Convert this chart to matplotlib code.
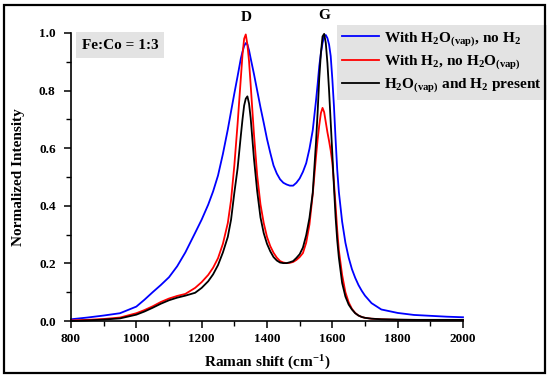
import matplotlib
matplotlib.use("Agg")
import matplotlib.pyplot as plt
from matplotlib.patches import Rectangle
from matplotlib.ticker import MultipleLocator
import matplotlib.transforms as mtransforms

plt.rcParams['font.family'] = ['Liberation Serif', 'DejaVu Serif']
plt.rcParams['font.weight'] = 'bold'
plt.rcParams['mathtext.default'] = 'regular'

# Raman shift (cm^-1)
shift = [800, 850, 900, 950, 1000, 1025, 1050, 1075, 1100, 1125,
         1150, 1180, 1200, 1220, 1235, 1250, 1265, 1280, 1290, 1300,
         1310, 1320, 1325, 1330, 1335, 1340, 1345, 1350, 1360, 1370,
         1380, 1390, 1400, 1410, 1420, 1430, 1440, 1450, 1460, 1470,
         1480, 1490, 1500, 1510, 1520, 1530, 1540, 1550, 1555, 1560,
         1565, 1570, 1575, 1580, 1585, 1590, 1595, 1600, 1605, 1610,
         1615, 1620, 1630, 1640, 1650, 1660, 1670, 1680, 1690, 1700,
         1720, 1750, 1800, 1850, 1900, 1950, 2000]

h2o_no_h2 = [0.006, 0.012, 0.019, 0.027, 0.050, 0.074, 0.100, 0.125, 0.152, 0.190,
             0.238, 0.306, 0.352, 0.404, 0.450, 0.505, 0.580, 0.665, 0.728, 0.790,
             0.850, 0.912, 0.935, 0.955, 0.965, 0.960, 0.940, 0.912, 0.858, 0.800,
             0.742, 0.688, 0.632, 0.584, 0.540, 0.512, 0.492, 0.480, 0.474, 0.470,
             0.470, 0.480, 0.495, 0.518, 0.548, 0.598, 0.662, 0.765, 0.822, 0.885,
             0.930, 0.965, 0.988, 0.993, 0.982, 0.960, 0.920, 0.840, 0.745, 0.630,
             0.525, 0.448, 0.345, 0.272, 0.220, 0.180, 0.150, 0.125, 0.105, 0.088,
             0.062, 0.040, 0.028, 0.021, 0.018, 0.015, 0.013]

h2_no_h2o = [0.002, 0.004, 0.007, 0.012, 0.027, 0.038, 0.051, 0.066, 0.078, 0.087,
             0.094, 0.115, 0.135, 0.160, 0.185, 0.218, 0.268, 0.340, 0.420, 0.540,
             0.685, 0.845, 0.925, 0.980, 0.995, 0.960, 0.902, 0.820, 0.650, 0.505,
             0.405, 0.340, 0.292, 0.260, 0.237, 0.220, 0.208, 0.203, 0.201, 0.202,
             0.205, 0.212, 0.222, 0.236, 0.272, 0.335, 0.440, 0.570, 0.630, 0.680,
             0.722, 0.740, 0.725, 0.690, 0.655, 0.625, 0.592, 0.550, 0.480, 0.400,
             0.315, 0.245, 0.160, 0.100, 0.065, 0.042, 0.028, 0.019, 0.014, 0.011,
             0.008, 0.006, 0.004, 0.004, 0.003, 0.003, 0.003]

both_present = [0.000, 0.002, 0.005, 0.009, 0.022, 0.033, 0.046, 0.060, 0.072, 0.081,
                0.088, 0.098, 0.115, 0.138, 0.162, 0.194, 0.238, 0.292, 0.352, 0.445,
                0.530, 0.645, 0.700, 0.748, 0.772, 0.780, 0.755, 0.705, 0.565, 0.450,
                0.360, 0.305, 0.268, 0.242, 0.222, 0.210, 0.203, 0.201, 0.201, 0.204,
                0.208, 0.219, 0.232, 0.255, 0.298, 0.358, 0.445, 0.620, 0.725, 0.844,
                0.930, 0.988, 0.997, 0.965, 0.895, 0.800, 0.690, 0.580, 0.465, 0.360,
                0.280, 0.220, 0.132, 0.085, 0.057, 0.040, 0.027, 0.019, 0.014, 0.011,
                0.008, 0.006, 0.005, 0.004, 0.004, 0.004, 0.004]

labels = ['With H$_2$O$_{(vap)}$, no H$_2$',
          'With H$_2$, no H$_2$O$_{(vap)}$',
          'H$_2$O$_{(vap)}$ and H$_2$ present']
colors = ['#0000ff', '#ff0000', '#000000']

W, H = 550, 378
fig = plt.figure(figsize=(W / 100, H / 100), dpi=100)
ax = fig.add_axes([71 / W, 1 - 321 / H, 392 / W, 288 / H])

for ys, lab, c in zip([h2o_no_h2, h2_no_h2o, both_present], labels, colors):
    ax.plot(shift, ys, color=c, lw=1.3, label=lab, clip_on=False)

ax.set_xlim(800, 2000)
ax.set_ylim(0, 1.0)
ax.xaxis.set_major_locator(MultipleLocator(200))
ax.xaxis.set_minor_locator(MultipleLocator(100))
ax.yaxis.set_major_locator(MultipleLocator(0.2))
ax.yaxis.set_minor_locator(MultipleLocator(0.1))
ax.yaxis.set_major_formatter(plt.FuncFormatter(lambda v, p: f'{v:.1f}'))
for s in ['top', 'right']:
    ax.spines[s].set_visible(False)
for s in ['left', 'bottom']:
    ax.spines[s].set_linewidth(1.2)
ax.tick_params(which='major', direction='out', length=5, width=1.1, labelsize=9.5)
ax.tick_params(which='minor', direction='out', length=3.5, width=1.0)
ax.tick_params(axis='y', which='major', pad=6)
ax.tick_params(axis='x', which='major', pad=4)

ax.set_xlabel('Raman shift (cm$^{-1}$)', fontsize=11, fontweight='bold', labelpad=6)
ax.set_ylabel('Normalized Intensity', fontsize=11, fontweight='bold', labelpad=10)

trans = mtransforms.blended_transform_factory(ax.transData, ax.transAxes)
ax.text(1336, 1.055, 'D', transform=trans, ha='center', va='center', fontsize=11, fontweight='bold')
ax.text(1576, 1.062, 'G', transform=trans, ha='center', va='center', fontsize=11, fontweight='bold')

ax.text(0.125, 0.958, 'Fe:Co = 1:3', transform=ax.transAxes, ha='center', va='center',
        fontsize=11, fontweight='bold',
        bbox=dict(boxstyle='square,pad=0.4', fc='#e3e3e3', ec='none'))

leg = ax.legend(loc='upper left', bbox_to_anchor=(337 / W, 1 - 25 / H),
                bbox_transform=fig.transFigure, frameon=True, fancybox=False,
                facecolor='#e3e3e3', edgecolor='none', framealpha=1,
                borderpad=0.35, handlelength=2.4, handletextpad=0.3,
                labelspacing=0.35, borderaxespad=0,
                prop=dict(family='Liberation Serif', weight='bold', size=11))
for line in leg.get_lines():
    line.set_linewidth(1.3)

fig.patches.append(Rectangle((4 / W, 5 / H), 541 / W, 368 / H, transform=fig.transFigure,
                             fill=False, ec='black', lw=1.6))

fig.savefig('out.png', dpi=100)
